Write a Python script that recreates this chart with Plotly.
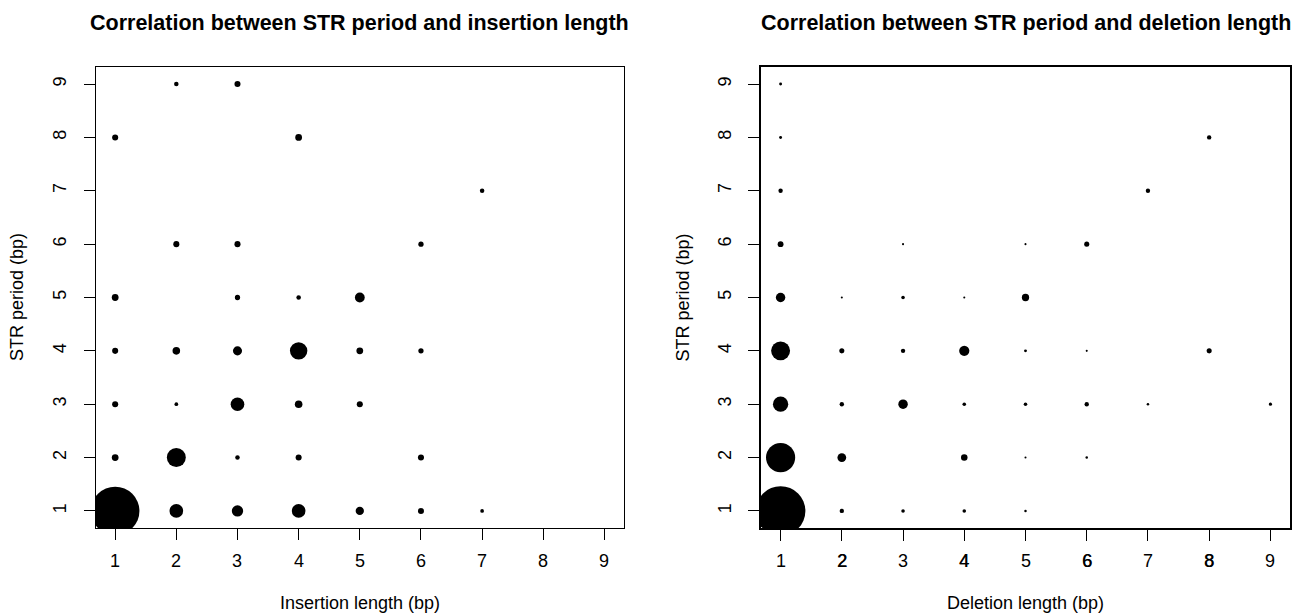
import plotly.graph_objects as go

# ---- data ----
# Insertion panel: (insertion length, STR period, count)
ins_len    = [1, 2, 3, 4, 5, 6, 7,
              1, 2, 3, 4, 6,
              1, 2, 3, 4, 5,
              1, 2, 3, 4, 5, 6,
              1, 3, 4, 5,
              2, 3, 6,
              7,
              1, 4,
              2, 3]
ins_period = [1, 1, 1, 1, 1, 1, 1,
              2, 2, 2, 2, 2,
              3, 3, 3, 3, 3,
              4, 4, 4, 4, 4, 4,
              5, 5, 5, 5,
              6, 6, 6,
              7,
              8, 8,
              9, 9]
ins_count  = [10240, 810, 560, 810, 300, 160, 60,
              200, 1560, 90, 160, 160,
              160, 60, 810, 250, 160,
              160, 250, 360, 1320, 200, 120,
              200, 120, 90, 420,
              160, 160, 120,
              90,
              160, 200,
              90, 160]

# Deletion panel: (deletion length, STR period, count)
del_len    = [1, 2, 3, 4, 5,
              1, 2, 4, 5, 6,
              1, 2, 3, 4, 5, 6, 7, 9,
              1, 2, 3, 4, 5, 6, 8,
              1, 2, 3, 4, 5,
              1, 3, 5, 6,
              1, 7,
              1, 8,
              1]
del_period = [1, 1, 1, 1, 1,
              2, 2, 2, 2, 2,
              3, 3, 3, 3, 3, 3, 3, 3,
              4, 4, 4, 4, 4, 4, 4,
              5, 5, 5, 5, 5,
              6, 6, 6, 6,
              7, 7,
              8, 8,
              9]
del_count  = [11560, 90, 60, 60, 30,
              4000, 360, 200, 20, 30,
              1100, 90, 420, 60, 60, 90, 30, 50,
              1690, 120, 90, 490, 40, 20, 120,
              420, 20, 60, 20, 250,
              160, 20, 20, 120,
              90, 90,
              40, 90,
              40]

tick_vals = [1, 2, 3, 4, 5, 6, 7, 8, 9]
tick_text = [str(v) for v in tick_vals]

titles = ["Correlation between STR period and insertion length",
          "Correlation between STR period and deletion length"]
x_titles = ["Insertion length (bp)", "Deletion length (bp)"]
y_title = "STR period (bp)"

# ---- layout geometry ----
W, H = 1293, 615
FONT = "Liberation Sans, Arial, Helvetica, sans-serif"
panels = [(95.6, 624), (761, 1290)]
box_lw = [1, 1.6]
top_px, bot_px = 67, 528
xlabel_px = 561
xtitle_px = 603
sizerefs = [8.7, 9.4]

fig = go.Figure()

for i, (xs, ys, cs) in enumerate([(ins_len, ins_period, ins_count),
                                  (del_len, del_period, del_count)]):
    sfx = "" if i == 0 else str(i + 1)
    fig.add_trace(go.Scatter(x=xs, y=ys, mode="markers",
                             marker=dict(size=cs, sizemode="area", sizeref=sizerefs[i],
                                         color="#000000", opacity=1, line=dict(width=0)),
                             xaxis="x" + sfx, yaxis="y" + sfx,
                             showlegend=False, hoverinfo="skip"))

ydom = [1 - bot_px / H, 1 - top_px / H]
axis_common = dict(range=[0.68, 9.32], tickmode="array", tickvals=tick_vals, ticktext=tick_text,
                   ticks="outside", ticklen=11, tickwidth=1, tickcolor="black",
                   showline=True, linecolor="black", mirror=True,
                   showgrid=False, zeroline=False,
                   tickfont=dict(family=FONT, size=18, color="black"))

layout = dict(width=W, height=H, margin=dict(l=0, r=0, t=0, b=0),
              paper_bgcolor="white", plot_bgcolor="white", showlegend=False)

for i, (x0, x1) in enumerate(panels):
    sfx = "" if i == 0 else str(i + 1)
    layout["xaxis" + sfx] = dict(axis_common, domain=[x0 / W, x1 / W], linewidth=box_lw[i],
                                 anchor="y" + sfx, showticklabels=False)
    layout["yaxis" + sfx] = dict(axis_common, domain=ydom, anchor="x" + sfx, linewidth=box_lw[i],
                                 tickangle=-90, ticklabelstandoff=10)

fig.update_layout(**layout)

ann = []
for i, (x0, x1) in enumerate(panels):
    sfx = "" if i == 0 else str(i + 1)
    cx = (x0 + x1) / 2 / W
    ann.append(dict(text="<b>" + titles[i] + "</b>", x=cx, y=1 - 23 / H,
                    xref="paper", yref="paper",
                    showarrow=False, xanchor="center", yanchor="middle",
                    font=dict(family=FONT, size=21.5, color="black")))
    ann.append(dict(text=x_titles[i], x=cx, y=1 - xtitle_px / H, xref="paper", yref="paper",
                    showarrow=False, xanchor="center", yanchor="middle",
                    font=dict(family=FONT, size=18, color="black")))
    ann.append(dict(text=y_title, x=(x0 - 79) / W, y=1 - (top_px + bot_px) / 2 / H,
                    xref="paper", yref="paper", textangle=-90,
                    showarrow=False, xanchor="center", yanchor="middle",
                    font=dict(family=FONT, size=18, color="black")))
    # x tick labels placed on the axis scale
    for v, t in zip(tick_vals, tick_text):
        f = dict(family=FONT, size=18, color="black")
        if i == 1 and v % 2 == 0:
            f["shadow"] = "0.4px 0px 0px #000000"
        ann.append(dict(text=t, x=v, xref="x" + sfx, y=1 - xlabel_px / H, yref="paper",
                        showarrow=False, xanchor="center", yanchor="middle", font=f))
fig.update_layout(annotations=ann)

fig.write_html("out.html", config={"displayModeBar": False, "staticPlot": True},
               post_script="document.body.style.margin='0';document.body.style.overflow='hidden';")
